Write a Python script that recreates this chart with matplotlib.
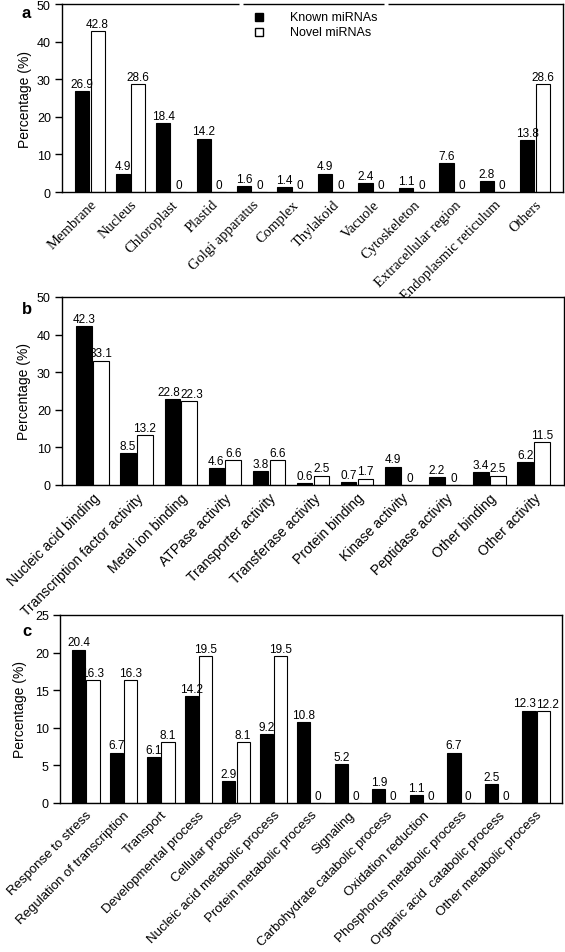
import matplotlib
matplotlib.use("Agg")
import matplotlib.pyplot as plt
import numpy as np

plt.rcParams['font.family'] = ['Liberation Sans', 'DejaVu Sans']

cats_a = ["Membrane", "Nucleus", "Chloroplast", "Plastid", "Golgi apparatus", "Complex",
          "Thylakoid", "Vacuole", "Cytoskeleton", "Extracellular region",
          "Endoplasmic reticulum", "Others"]
known_a = [26.9, 4.9, 18.4, 14.2, 1.6, 1.4, 4.9, 2.4, 1.1, 7.6, 2.8, 13.8]
novel_a = [42.8, 28.6, 0, 0, 0, 0, 0, 0, 0, 0, 0, 28.6]

cats_b = ["Nucleic acid binding", "Transcription factor activity", "Metal ion binding",
          "ATPase activity", "Transporter activity", "Transferase activity",
          "Protein binding", "Kinase activity", "Peptidase activity", "Other binding",
          "Other activity"]
known_b = [42.3, 8.5, 22.8, 4.6, 3.8, 0.6, 0.7, 4.9, 2.2, 3.4, 6.2]
novel_b = [33.1, 13.2, 22.3, 6.6, 6.6, 2.5, 1.7, 0, 0, 2.5, 11.5]

cats_c = ["Response to stress", "Regulation of transcription", "Transport",
          "Developmental process", "Cellular process", "Nucleic acid metabolic process",
          "Protein metabolic process", "Signaling", "Carbohydrate catabolic process",
          "Oxidation reduction", "Phosphorus metabolic process",
          "Organic acid  catabolic process", "Other metabolic process"]
known_c = [20.4, 6.7, 6.1, 14.2, 2.9, 9.2, 10.8, 5.2, 1.9, 1.1, 6.7, 2.5, 12.3]
novel_c = [16.3, 16.3, 8.1, 19.5, 8.1, 19.5, 0, 0, 0, 0, 0, 0, 12.2]

series_names = ["Known miRNAs", "Novel miRNAs"]

fig = plt.figure(figsize=(5.65, 9.53), dpi=100)
W, H = 565, 953

def ax_at(l, t, r, b):
    return fig.add_axes([l / W, 1 - b / H, (r - l) / W, (b - t) / H])

def fmt(v):
    return "0" if v == 0 else f"{v:g}"

def panel(ax, cats, known, novel, ymax, yticks, serif_labels, ylab_x, xfs):
    bw, off = 0.35, 0.19
    x = np.arange(len(cats))
    ax.bar(x - off, known, bw, color='black', edgecolor='black', linewidth=0.8)
    ax.bar(x + off, novel, bw, color='white', edgecolor='black', linewidth=0.8)
    dy = ymax * 0.006
    for xi, k, n in zip(x, known, novel):
        sk, sn = fmt(k), fmt(n)
        if k > 0 and n > 0 and abs(k - n) < 1.5 and max(len(sk), len(sn)) >= 4:
            ax.text(xi - 0.005, k + dy, sk, ha='right', va='bottom', fontsize=8.5)
            ax.text(xi + 0.005, n + dy, sn, ha='left', va='bottom', fontsize=8.5)
        else:
            ax.text(xi - off, k + dy, sk, ha='center', va='bottom', fontsize=8.5)
            ax.text(xi + off, n + dy, sn, ha='center', va='bottom', fontsize=8.5)
    ax.set_xlim(-0.69, len(cats) - 0.31)
    ax.set_ylim(0, ymax)
    ax.set_yticks(yticks)
    ax.tick_params(axis='y', labelsize=9, direction='out', length=5, width=1, pad=3)
    ax.tick_params(axis='x', length=0, pad=4)
    ax.set_xticks(x)
    if serif_labels:
        ax.set_xticklabels(cats, rotation=45, ha='right', rotation_mode='anchor',
                           fontsize=xfs, family='Liberation Serif')
    else:
        ax.set_xticklabels(cats, rotation=45, ha='right', rotation_mode='anchor',
                           fontsize=xfs)
    ax.set_ylabel("Percentage (%)", fontsize=10)
    ax.yaxis.set_label_coords(ylab_x, 0.5)
    for s in ax.spines.values():
        s.set_linewidth(1.0)

# panel a
ax_a = ax_at(62, 5, 563, 193)
panel(ax_a, cats_a, known_a, novel_a, 50, [0, 10, 20, 30, 40, 50], True, -0.06, 10.5)
# legend (manual, as in the reference)
for yy, fc, name in [(0.931, 'black', series_names[0]), (0.851, 'white', series_names[1])]:
    ax_a.plot([0.393], [yy], marker='s', markersize=6, markerfacecolor=fc,
              markeredgecolor='black', markeredgewidth=1, transform=ax_a.transAxes,
              clip_on=False, linestyle='none')
    ax_a.text(0.455, yy, name, transform=ax_a.transAxes, fontsize=9, va='center', ha='left')
# small gaps in the top spine of the reference
for gx in [241, 386]:
    fx = (gx - 62) / 501
    ax_a.plot([fx - 0.003, fx + 0.003], [1, 1], color='white', linewidth=2.5,
              transform=ax_a.transAxes, clip_on=False, zorder=5, solid_capstyle='butt')

# panel b
ax_b = ax_at(62, 298, 564, 486)
panel(ax_b, cats_b, known_b, novel_b, 50, [0, 10, 20, 30, 40, 50], False, -0.062, 10)

# panel c
ax_c = ax_at(60, 616, 562, 804)
panel(ax_c, cats_c, known_c, novel_c, 25, [0, 5, 10, 15, 20, 25], False, -0.066, 9.5)

fig.text(22 / W, 1 - 13 / H, "a", fontsize=12, fontweight='bold', va='center')
fig.text(22 / W, 1 - 309 / H, "b", fontsize=12, fontweight='bold', va='center')
fig.text(22 / W, 1 - 632 / H, "c", fontsize=12, fontweight='bold', va='center')

fig.savefig("out.png", dpi=100, facecolor='white')
